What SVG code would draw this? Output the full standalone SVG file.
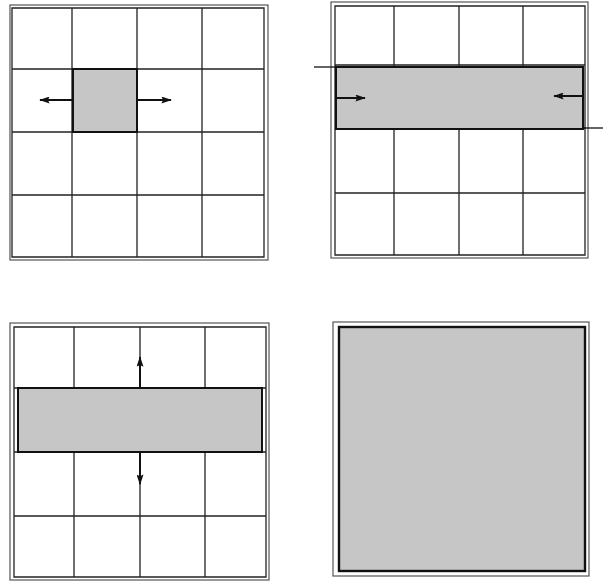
<svg xmlns="http://www.w3.org/2000/svg" width="603" height="581" viewBox="0 0 603 581">
<defs>
<style>
.frame{fill:none;stroke:#555;stroke-width:1.2}
.grid{fill:none;stroke:#222;stroke-width:1.3}
.band{fill:#c6c6c6;stroke:#111;stroke-width:2}
.arr{stroke:#111;stroke-width:2;fill:none;marker-end:url(#ah)}
.ln{stroke:#111;stroke-width:1.3}
</style>
<marker id="ah" viewBox="0 0 12 8" refX="11" refY="4" markerWidth="11" markerHeight="7" orient="auto" markerUnits="userSpaceOnUse">
<path d="M0,0 L12,4 L0,8 L2,4 Z" fill="#111"/>
</marker>
</defs>
<rect width="603" height="581" fill="#fff"/>

<g id="panel1">
<rect class="frame" x="10" y="5" width="258" height="255"/>
<rect x="73" y="69" width="64" height="63" fill="#c6c6c6"/>
<path class="grid" d="M12,8 H264 V257 H12 Z M72,8 V257 M137,8 V257 M202,8 V257 M12,69 H264 M12,132 H264 M12,195 H264"/>
<rect x="73" y="69" width="64" height="63" fill="none" stroke="#111" stroke-width="2"/>
</g>

<g id="panel2">
<rect class="frame" x="331" y="2" width="257" height="256"/>
<path class="grid" d="M335,6 H585 V255 H335 Z M394,6 V255 M459,6 V255 M523,6 V255 M335,65 H585 M335,128 H585 M335,193 H585"/>
<rect class="band" x="336" y="67" width="247" height="62"/>
</g>

<g id="panel3">
<rect class="frame" x="10" y="323" width="259" height="257"/>
<path class="grid" d="M14,327 H266 V577 H14 Z M74,327 V577 M140,327 V577 M205,327 V577 M14,388 H266 M14,452 H266 M14,516 H266"/>
<rect class="band" x="18" y="388" width="244" height="64"/>
</g>

<g id="panel4">
<rect class="frame" x="333" y="322" width="256" height="254"/>
<rect x="339" y="327" width="246" height="244" fill="#c6c6c6" stroke="#111" stroke-width="2.4"/>
</g>

<g id="connectors">
<line class="arr" x1="72" y1="100" x2="40" y2="100"/>
<line class="arr" x1="138" y1="100" x2="171" y2="100"/>
<line class="ln" x1="314" y1="67" x2="336" y2="67"/>
<line class="ln" x1="583" y1="128" x2="603" y2="128"/>
<line class="arr" x1="337" y1="98" x2="365" y2="98"/>
<line class="arr" x1="583" y1="96" x2="554" y2="96"/>
<line class="arr" x1="140" y1="388" x2="140" y2="357"/>
<line class="arr" x1="140" y1="452" x2="140" y2="484"/>
</g>
</svg>
